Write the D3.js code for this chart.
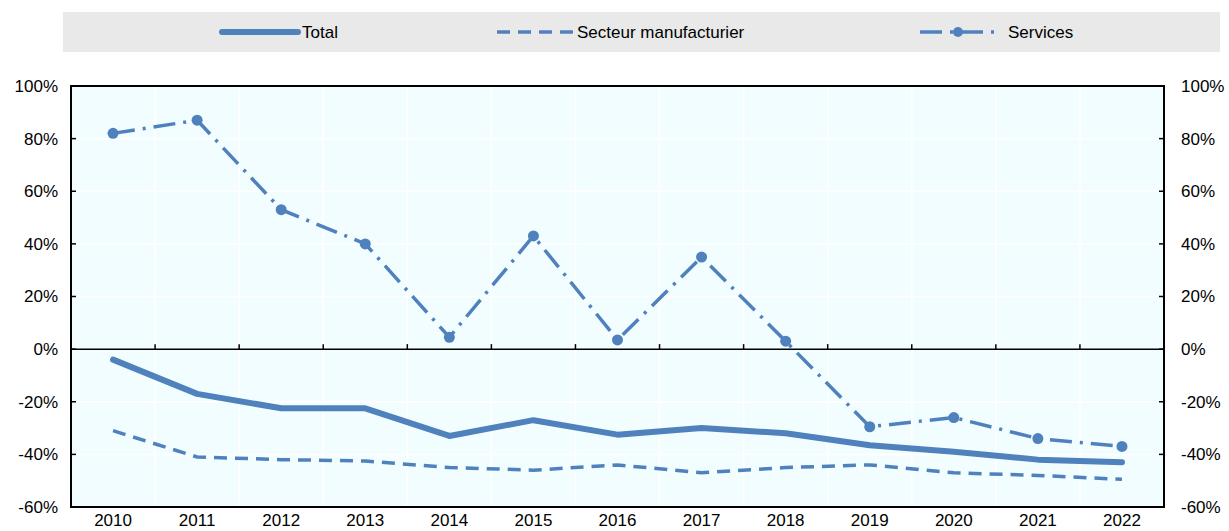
<!DOCTYPE html>
<html>
<head>
<meta charset="utf-8">
<script src="https://cdn.jsdelivr.net/npm/d3@7"></script>
<style>
  body { margin: 0; background: #fff; }
  svg text { font-family: "Liberation Sans Narrow", "Arial Narrow", "Liberation Sans", sans-serif; fill: #000; }
</style>
</head>
<body>
<svg id="chart" width="1229" height="531"></svg>
<script>
// chart values (percent)
const years = ['2010', '2011', '2012', '2013', '2014', '2015', '2016', '2017', '2018', '2019', '2020', '2021', '2022']
const total = [-4, -17, -22.5, -22.5, -33, -27, -32.5, -30, -32, -36.5, -39, -42, -43]
const manufacturing = [-31, -41, -42, -42.5, -45, -46, -44, -47, -45, -44, -47, -48, -49.5]
const services = [82, 87, 53, 40, 4.5, 43, 3.5, 35, 3, -29.5, -26, -34, -37]
const yTicks = [-60, -40, -20, 0, 20, 40, 60, 80, 100]
const legendLabels = ['Total', 'Secteur manufacturier', 'Services']

const COLOR = '#4f81bd'
const FONT_SIZE = 17
const MARGIN = {top: 86, right: 65, bottom: 24, left: 71}
const width = 1229
const height = 531
const plotW = width - MARGIN.left - MARGIN.right
const plotH = height - MARGIN.top - MARGIN.bottom

const svg = d3.select('#chart')

// legend band
const legend = svg.append('g')
legend.append('rect')
  .attr('x', 63).attr('y', 12)
  .attr('width', 1157).attr('height', 40)
  .attr('fill', '#e9e9e9')

const legendItems = [
  {x: 222, textX: 302, dash: null, width: 6, marker: false},
  {x: 497, textX: 577, dash: '13,8', width: 3.5, marker: false},
  {x: 920, textX: 1008, dash: '22,8,3,8', width: 3.5, marker: true}
]
legendItems.forEach(function(it, i) {
  legend.append('line')
    .attr('x1', it.x).attr('x2', it.x + 76)
    .attr('y1', 32).attr('y2', 32)
    .attr('stroke', COLOR)
    .attr('stroke-width', it.width)
    .attr('stroke-dasharray', it.dash)
    .attr('stroke-linecap', it.dash ? 'butt' : 'round')
  if (it.marker) {
    legend.append('circle')
      .attr('cx', it.x + 38).attr('cy', 32).attr('r', 5)
      .attr('fill', COLOR)
  }
  legend.append('text')
    .attr('x', it.textX).attr('y', 32)
    .attr('dy', '0.35em')
    .attr('font-size', FONT_SIZE)
    .text(legendLabels[i])
})

const x = d3.scaleBand()
  .domain(years)
  .range([0, plotW])

const y = d3.scaleLinear()
  .domain([-60, 100])
  .range([plotH, 0])

const chart = svg.append('g')
  .attr('transform', 'translate(' + MARGIN.left + ',' + MARGIN.top + ')')

chart.append('rect')
  .attr('width', plotW).attr('height', plotH)
  .attr('fill', '#f2fdff')

// white grid
chart.append('g')
  .selectAll('line')
  .data(yTicks.filter(d => d > -60 && d < 100 && d !== 0))
  .enter().append('line')
  .attr('x1', 0).attr('x2', plotW)
  .attr('y1', d => y(d)).attr('y2', d => y(d))
  .attr('stroke', '#fff').attr('stroke-width', 1.5)

chart.append('g')
  .selectAll('line')
  .data(years.slice(1))
  .enter().append('line')
  .attr('x1', d => x(d)).attr('x2', d => x(d))
  .attr('y1', 0).attr('y2', plotH)
  .attr('stroke', '#fff').attr('stroke-width', 1.5)

// zero line with inward ticks on category boundaries
chart.append('line')
  .attr('x1', 0).attr('x2', plotW)
  .attr('y1', y(0)).attr('y2', y(0))
  .attr('stroke', '#000').attr('stroke-width', 1.5)
chart.append('g')
  .selectAll('line')
  .data(years.slice(1))
  .enter().append('line')
  .attr('x1', d => x(d)).attr('x2', d => x(d))
  .attr('y1', y(0)).attr('y2', y(0) - 5)
  .attr('stroke', '#000').attr('stroke-width', 1.5)

// axes
const yLeft = d3.axisLeft(y).tickValues(yTicks).tickSize(0).tickPadding(13).tickFormat(d => d + '%')
const yRight = d3.axisRight(y).tickValues(yTicks).tickSize(0).tickPadding(17).tickFormat(d => d + '%')
const xAxis = d3.axisBottom(x).tickSize(0).tickPadding(7)

const gl = chart.append('g').call(yLeft)
const gr = chart.append('g').attr('transform', 'translate(' + plotW + ',0)').call(yRight)
const gx = chart.append('g').attr('transform', 'translate(0,' + plotH + ')').call(xAxis)
;[gl, gr, gx].forEach(function(g) {
  g.select('.domain').remove()
  g.selectAll('text').attr('font-size', FONT_SIZE).attr('fill', '#000')
    .style('font-family', '"Liberation Sans Narrow", "Arial Narrow", "Liberation Sans", sans-serif')
})

// inward ticks on the side axes
chart.append('g')
  .selectAll('line')
  .data(yTicks.filter(d => d > -60 && d < 100))
  .enter().append('line')
  .attr('x1', 0).attr('x2', 5)
  .attr('y1', d => y(d)).attr('y2', d => y(d))
  .attr('stroke', '#000').attr('stroke-width', 1.5)
chart.append('g')
  .selectAll('line')
  .data(yTicks.filter(d => d > -60 && d < 100))
  .enter().append('line')
  .attr('x1', plotW - 5).attr('x2', plotW)
  .attr('y1', d => y(d)).attr('y2', d => y(d))
  .attr('stroke', '#000').attr('stroke-width', 1.5)

// plot frame
chart.append('rect')
  .attr('width', plotW).attr('height', plotH)
  .attr('fill', 'none')
  .attr('stroke', '#000').attr('stroke-width', 2)

const line = d3.line()
  .x((d, i) => x(years[i]) + x.bandwidth() / 2)
  .y(d => y(d))

chart.append('path')
  .datum(manufacturing)
  .attr('d', line)
  .attr('fill', 'none')
  .attr('stroke', COLOR)
  .attr('stroke-width', 3.5)
  .attr('stroke-dasharray', '13,8')

chart.append('path')
  .datum(total)
  .attr('d', line)
  .attr('fill', 'none')
  .attr('stroke', COLOR)
  .attr('stroke-width', 6)
  .attr('stroke-linecap', 'round')
  .attr('stroke-linejoin', 'round')

chart.append('path')
  .datum(services)
  .attr('d', line)
  .attr('fill', 'none')
  .attr('stroke', COLOR)
  .attr('stroke-width', 3.5)
  .attr('stroke-dasharray', '22,8,3,8')

chart.append('g')
  .selectAll('circle')
  .data(services)
  .enter().append('circle')
  .attr('cx', (d, i) => x(years[i]) + x.bandwidth() / 2)
  .attr('cy', d => y(d))
  .attr('r', 5.5)
  .attr('fill', COLOR)
</script>
</body>
</html>
